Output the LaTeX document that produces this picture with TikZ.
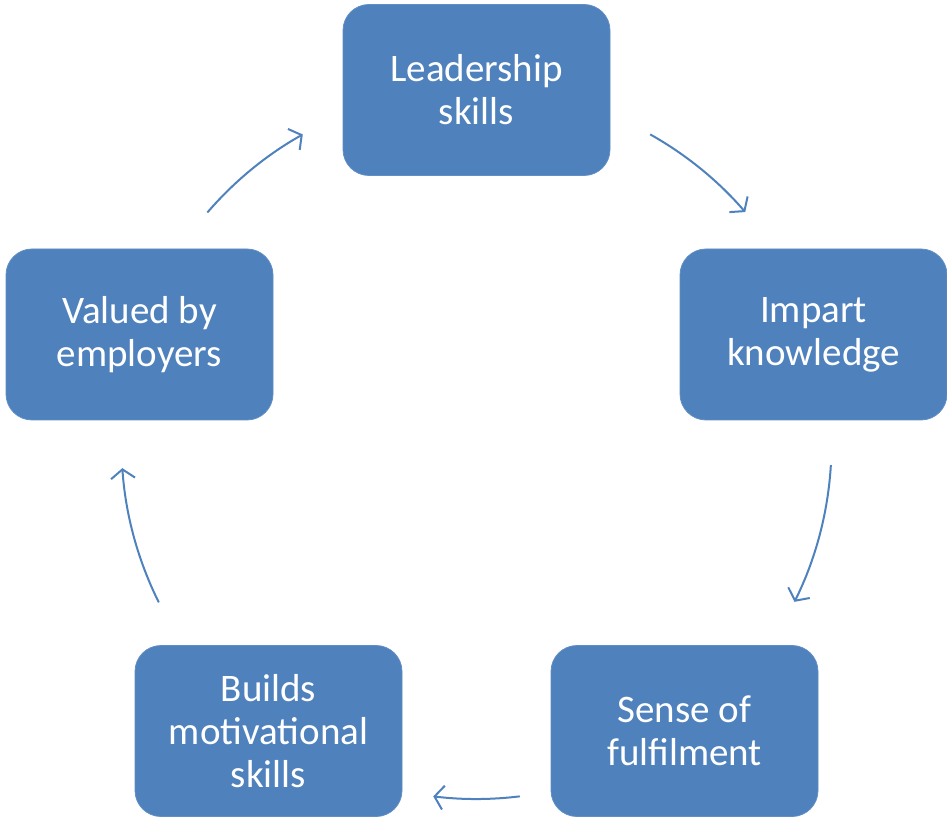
\documentclass[tikz,border=0pt]{standalone}
\usepackage{fontspec}
\setmainfont{Carlito}
\usetikzlibrary{arrows.meta}
\definecolor{boxblue}{HTML}{4F81BD}
\begin{document}
\begin{tikzpicture}[x=1pt,y=1pt,
  box/.style={fill=boxblue, draw=boxblue!90!white, line width=0.8pt, rounded corners=26pt,
    minimum width=267pt, minimum height=171pt, text=white, align=center,
    font=\fontsize{39}{43}\selectfont, inner sep=0pt},
  cyc/.style={draw=boxblue, line width=2pt, -{Straight Barb[length=9pt,width=24pt,line width=2pt]}}]
\useasboundingbox (0,0) rectangle (947,817);
\node[box] (lead) at (476.5,727) {Leadership\\skills};
\node[box] (imp) at (813.5,482.5) {Impart\\knowledge};
\node[box] (sense) at (684.5,86) {Sense of\\fulfilment};
\node[box] (build) at (268.5,86) {Builds\\motivational\\skills};
\node[box] (val) at (139.5,482.5) {Valued by\\employers};
\coordinate (c) at (476.5,373);
\coordinate (a1) at ([shift={(60.7:355)}]c);
\coordinate (a2) at ([shift={(-3.4:355)}]c);
\coordinate (a3) at ([shift={(-83:355)}]c);
\coordinate (a4) at ([shift={(-153.5:355)}]c);
\coordinate (a5) at ([shift={(139.3:355)}]c);
\draw[cyc] (a1) arc[start angle=60.7, end angle=40.8, radius=355];
\draw[cyc] (a2) arc[start angle=-3.4, end angle=-26.4, radius=355];
\draw[cyc] (a3) arc[start angle=-83, end angle=-97, radius=355];
\draw[cyc] (a4) arc[start angle=-153.5, end angle=-176.1, radius=355];
\draw[cyc] (a5) arc[start angle=139.3, end angle=119.3, radius=355];
\end{tikzpicture}
\end{document}
